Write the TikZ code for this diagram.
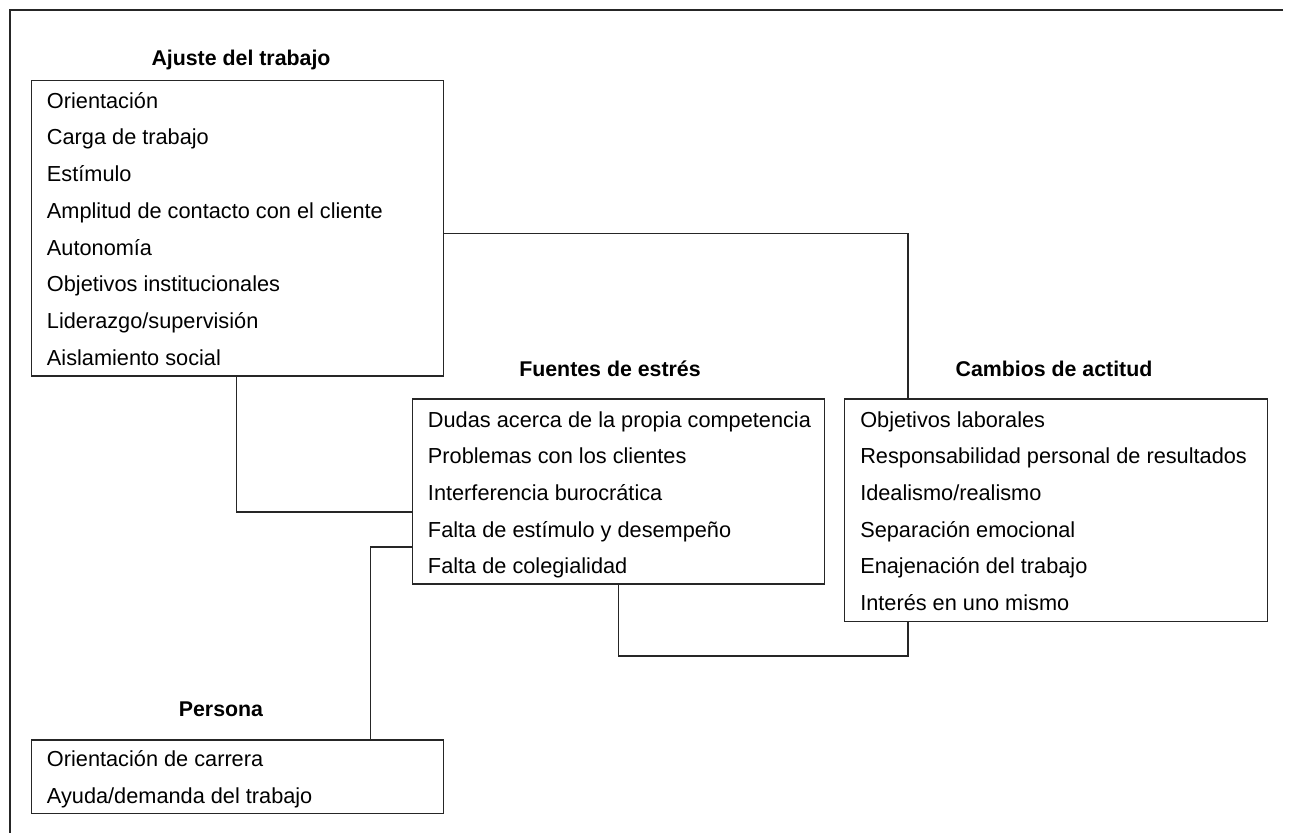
\documentclass[tikz,border=0pt]{standalone}
\usepackage{fontspec}
\setmainfont{Liberation Sans}
\usetikzlibrary{fit}
\begin{document}
\begin{tikzpicture}[x=0.75pt,y=-0.75pt,
  ink/.style={draw=black!85, line width=1.15pt},
  box/.style={ink, inner sep=0pt, outer sep=0pt},
  item/.style={anchor=base west, inner sep=0pt, font=\fontsize{16.3}{19}\selectfont},
  title/.style={anchor=base, inner sep=0pt, font=\fontsize{16}{19}\selectfont\bfseries},
  link/.style={ink, line cap=rect}]
\useasboundingbox (0,0) rectangle (1291,833);

% frame lines (top and left)
\draw[ink] (1283,10) -- (10,10) -- (10,833);

% boxes
\node[box, fit={(31.7,80.7) (443.3,376)}] (ajuste) {};
\node[box, fit={(412.3,399) (824.3,584)}] (fuentes) {};
\node[box, fit={(844.3,399) (1267.7,621.7)}] (cambios) {};
\node[box, fit={(31.7,740) (443.3,813.3)}] (persona) {};

% titles
\node[title] (tA) at (241,65.5) {Ajuste del trabajo};
\node[title] (tF) at (610,376.7) {Fuentes de estrés};
\node[title] (tC) at (1054,376.7) {Cambios de actitud};
\node[title] (tP) at (221,716) {Persona};

% Ajuste del trabajo
\node[item] (a1) at (46.7,108.2) {Orientación};
\node[item] (a2) at (46.7,144.9) {Carga de trabajo};
\node[item] (a3) at (46.7,181.6) {Estímulo};
\node[item] (a4) at (46.7,218.3) {Amplitud de contacto con el cliente};
\node[item] (a5) at (46.7,255.0) {Autonomía};
\node[item] (a6) at (46.7,291.7) {Objetivos institucionales};
\node[item] (a7) at (46.7,328.4) {Liderazgo/supervisión};
\node[item] (a8) at (46.7,365.1) {Aislamiento social};

% Fuentes de estres
\node[item] (f1) at (427.7,427) {Dudas acerca de la propia competencia};
\node[item] (f2) at (427.7,463.7) {Problemas con los clientes};
\node[item] (f3) at (427.7,500.4) {Interferencia burocrática};
\node[item] (f4) at (427.7,537.1) {Falta de estímulo y desempeño};
\node[item] (f5) at (427.7,573.8) {Falta de colegialidad};

% Cambios de actitud
\node[item] (c1) at (860,427) {Objetivos laborales};
\node[item] (c2) at (860,463.7) {Responsabilidad personal de resultados};
\node[item] (c3) at (860,500.4) {Idealismo/realismo};
\node[item] (c4) at (860,537.1) {Separación emocional};
\node[item] (c5) at (860,573.8) {Enajenación del trabajo};
\node[item] (c6) at (860,610.5) {Interés en uno mismo};

% Persona
\node[item] (p1) at (46.7,766.3) {Orientación de carrera};
\node[item] (p2) at (46.7,803) {Ayuda/demanda del trabajo};

% elbow points of the connectors
\coordinate (k1) at (908,233.5);
\coordinate (k2) at (236.3,512);
\coordinate (k3) at (370.5,547);
\coordinate (k4) at (618.3,656);
\coordinate (k5) at (908,656);

% connectors
\draw[link] (ajuste.east |- k1) -| (cambios.north -| k1);
\draw[link] (ajuste.south -| k2) |- (fuentes.west |- k2);
\draw[link] (persona.north -| k3) |- (fuentes.west |- k3);
\draw[link] (fuentes.south -| k4) |- (k5) -- (cambios.south -| k5);
\end{tikzpicture}
\end{document}
